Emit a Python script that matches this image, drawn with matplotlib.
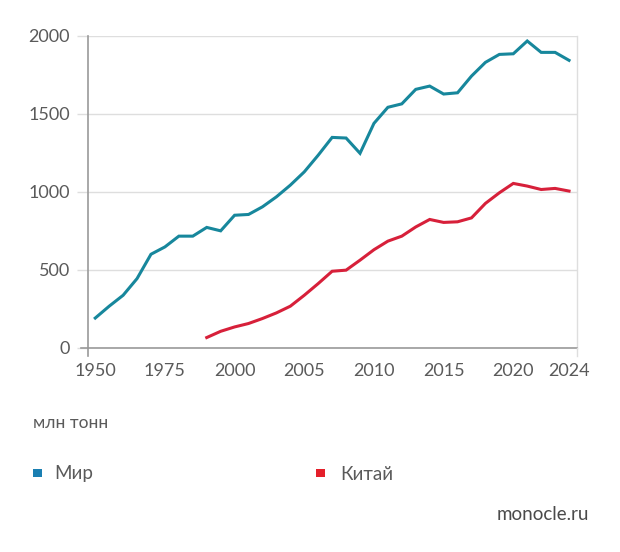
import numpy as np
import matplotlib
matplotlib.use('Agg')
import matplotlib.pyplot as plt
from matplotlib.patches import Rectangle

plt.rcParams['font.family'] = ['Lato', 'Open Sans', 'DejaVu Sans']

# data, mln tonnes
world_years = [1950, 1955, 1960, 1965, 1970, 1975, 1980, 1985, 1990, 1995,
               2000, 2001, 2002, 2003, 2004, 2005, 2006, 2007, 2008, 2009,
               2010, 2011, 2012, 2013, 2014, 2015, 2016, 2017, 2018, 2019,
               2020, 2021, 2022, 2023, 2024]
world_vals = [192, 268, 338, 445, 601, 648, 717, 717, 773, 751,
              851, 856, 905, 969, 1044, 1129, 1236, 1350, 1346, 1248,
              1440, 1543, 1565, 1658, 1679, 1628, 1636, 1743, 1831, 1882,
              1886, 1968, 1895, 1895, 1844]
china_years = [1990, 1995,
               2000, 2001, 2002, 2003, 2004, 2005, 2006, 2007, 2008, 2009,
               2010, 2011, 2012, 2013, 2014, 2015, 2016, 2017, 2018, 2019,
               2020, 2021, 2022, 2023, 2024]
china_vals = [67, 107,
              135, 157, 189, 225, 268, 338, 413, 492, 499, 563,
              630, 685, 717, 776, 824, 805, 809, 834, 927, 995,
              1055, 1038, 1016, 1023, 1006]
xtick_years = [1950, 1975, 2000, 2005, 2010, 2015, 2020, 2024]
xgrid_years = [1975, 2000, 2005, 2010, 2015, 2020]
yticks = [0, 500, 1000, 1500, 2000]

WORLD = '#17879c'
CHINA = '#d7203a'
GRID = '#dedede'
AXIS = '#9a9a9a'
TXT = '#5a5a5a'


# before 2000 one unit = 25 years, after 2000 one unit = 5 years
def fwd(x):
    x = np.asarray(x, dtype=float)
    return np.where(x <= 2000, (x - 2000) / 25.0, (x - 2000) / 5.0)


def inv(u):
    u = np.asarray(u, dtype=float)
    return np.where(u <= 0, 2000 + 25.0 * u, 2000 + 5.0 * u)


W, H = 620, 552
fig = plt.figure(figsize=(W / 100, H / 100), dpi=100)
ax = fig.add_axes([88 / W, 1 - 348 / H, 488.7 / W, 312 / H])

ax.set_xscale('function', functions=(fwd, inv))
ax.set_xlim(1947.4, 2024.55)
ax.set_ylim(0, 2000)

ax.plot(world_years, world_vals, color=WORLD, lw=2.2, solid_joinstyle='miter', zorder=3)
ax.plot(china_years, china_vals, color=CHINA, lw=2.2, solid_joinstyle='miter', zorder=3)

# axes and grid
ax.set_xticks(xtick_years)
ax.set_xticklabels([str(y) for y in xtick_years])
ax.set_xticks(xgrid_years, minor=True)
ax.tick_params(axis='x', which='major', length=0, pad=11, labelsize=13, labelcolor=TXT)
ax.tick_params(axis='x', which='minor', length=8, width=1, color=GRID)
ax.set_yticks(yticks)
ax.tick_params(axis='y', length=8, width=1, color=GRID, pad=5, labelsize=13, labelcolor=TXT)
ax.grid(axis='x', which='minor', color=GRID, lw=1)
ax.grid(axis='y', which='major', color=GRID, lw=1)
ax.set_axisbelow(True)

ax.spines['top'].set_visible(False)
ax.spines['left'].set_color(AXIS)
ax.spines['bottom'].set_color(AXIS)
ax.spines['left'].set_linewidth(1.2)
ax.spines['bottom'].set_linewidth(1.2)
ax.spines['right'].set_color(GRID)
ax.spines['right'].set_linewidth(1)

# small extensions of the axes below / left of the corner
fig.add_artist(plt.Line2D([88 / W, 88 / W], [1 - 348 / H, 1 - 356 / H], color=AXIS, lw=1.2))
fig.add_artist(plt.Line2D([80.5 / W, 88 / W], [1 - 348 / H, 1 - 348 / H], color=AXIS, lw=1.2))
fig.add_artist(plt.Line2D([576.7 / W, 576.7 / W], [1 - 348 / H, 1 - 356 / H], color=GRID, lw=1))

# unit and legend
fig.text(33 / W, 1 - 423 / H, 'млн тонн', fontsize=12.5, color=TXT, va='center', ha='left')
fig.add_artist(Rectangle((33 / W, 1 - 477 / H), 8.5 / W, 8.5 / H, color='#1a7fb2', lw=0))
fig.text(54 / W, 1 - 474 / H, 'Мир', fontsize=13.5, color=TXT, va='center', ha='left')
fig.add_artist(Rectangle((316 / W, 1 - 477 / H), 8.5 / W, 8.5 / H, color='#e41f2a', lw=0))
fig.text(340 / W, 1 - 474 / H, 'Китай', fontsize=13.5, color=TXT, va='center', ha='left')
fig.text(589 / W, 1 - 515 / H, 'monocle.ru', fontsize=13.5, color='#4a4a4a', va='center', ha='right')

fig.savefig('out.png', dpi=100)
